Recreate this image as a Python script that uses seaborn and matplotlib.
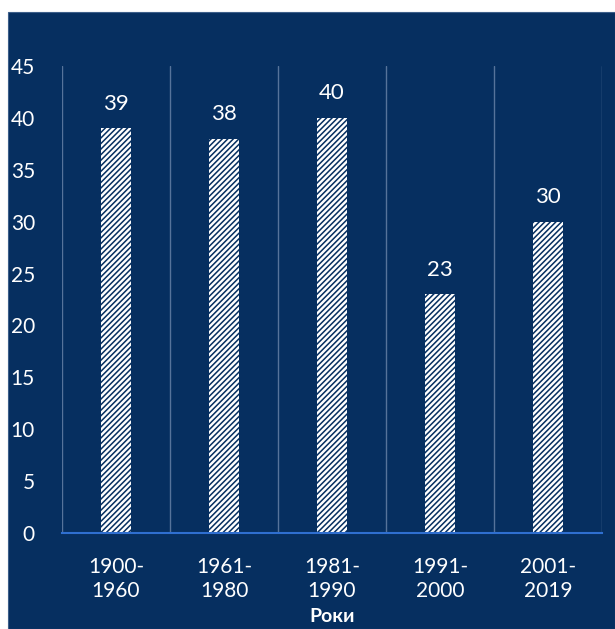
import matplotlib
matplotlib.use("Agg")
import matplotlib.pyplot as plt
import matplotlib.patches as mpatches
import seaborn as sns
import pandas as pd

categories = ["1900-\n1960", "1961-\n1980", "1981-\n1990", "1991-\n2000", "2001-\n2019"]
values = [39, 38, 40, 23, 30]
x_label = "Роки"
y_ticks = [0, 5, 10, 15, 20, 25, 30, 35, 40, 45]

navy = "#062f60"
grid_c = "#56739a"
axis_c = "#2f6fd0"

sns.set_theme(style="white")
plt.rcParams["font.family"] = ["Lato", "DejaVu Sans"]
plt.rcParams["hatch.linewidth"] = 1.1
plt.rcParams["hatch.color"] = navy

fig = plt.figure(figsize=(6.15, 6.29), dpi=100, facecolor="white")
fig.patches.append(mpatches.Rectangle((8 / 615, 0), 1 - 8 / 615, 1 - 12 / 629,
                                      transform=fig.transFigure, facecolor=navy,
                                      edgecolor="#3d5f8a", linewidth=0.8, zorder=-10))
ax = fig.add_axes([62 / 615, 1 - 533 / 629, 540 / 615, 467 / 629])
ax.set_zorder(5)
ax.set_facecolor(navy)

df = pd.DataFrame({"cat": categories, "val": values})
sns.barplot(data=df, x="cat", y="val", ax=ax, color="white", width=0.28,
            saturation=1, zorder=3)
for p in ax.patches:
    p.set_hatch("//////")
    p.set_edgecolor(navy)
    p.set_linewidth(0)
    p.set_facecolor("white")

for i, v in enumerate(values):
    ax.text(i, v + 1.4, str(v), ha="center", va="bottom", color="white",
            fontsize=16)

ax.set_ylim(0, 45)
ax.set_xlim(-0.5, len(categories) - 0.5)
ax.set_yticks(y_ticks)
ax.tick_params(axis="y", colors="white", labelsize=15, length=0, pad=19.5)
ax.tick_params(axis="x", colors="white", labelsize=15, length=0, pad=17)
for lab in ax.get_xticklabels():
    lab.set_linespacing(1.25)
for b in range(len(categories) + 1):
    ax.axvline(b - 0.5, color=grid_c, linewidth=1, zorder=1)
for s in ["top", "right", "left"]:
    ax.spines[s].set_visible(False)
ax.spines["bottom"].set_color(axis_c)
ax.spines["bottom"].set_linewidth(1.5)
ax.spines["bottom"].set_zorder(4)
ax.set_xlabel(x_label, color="white", fontsize=14, fontweight="bold", labelpad=5)
ax.set_ylabel("")

fig.savefig("out.png", dpi=100, facecolor="white")
